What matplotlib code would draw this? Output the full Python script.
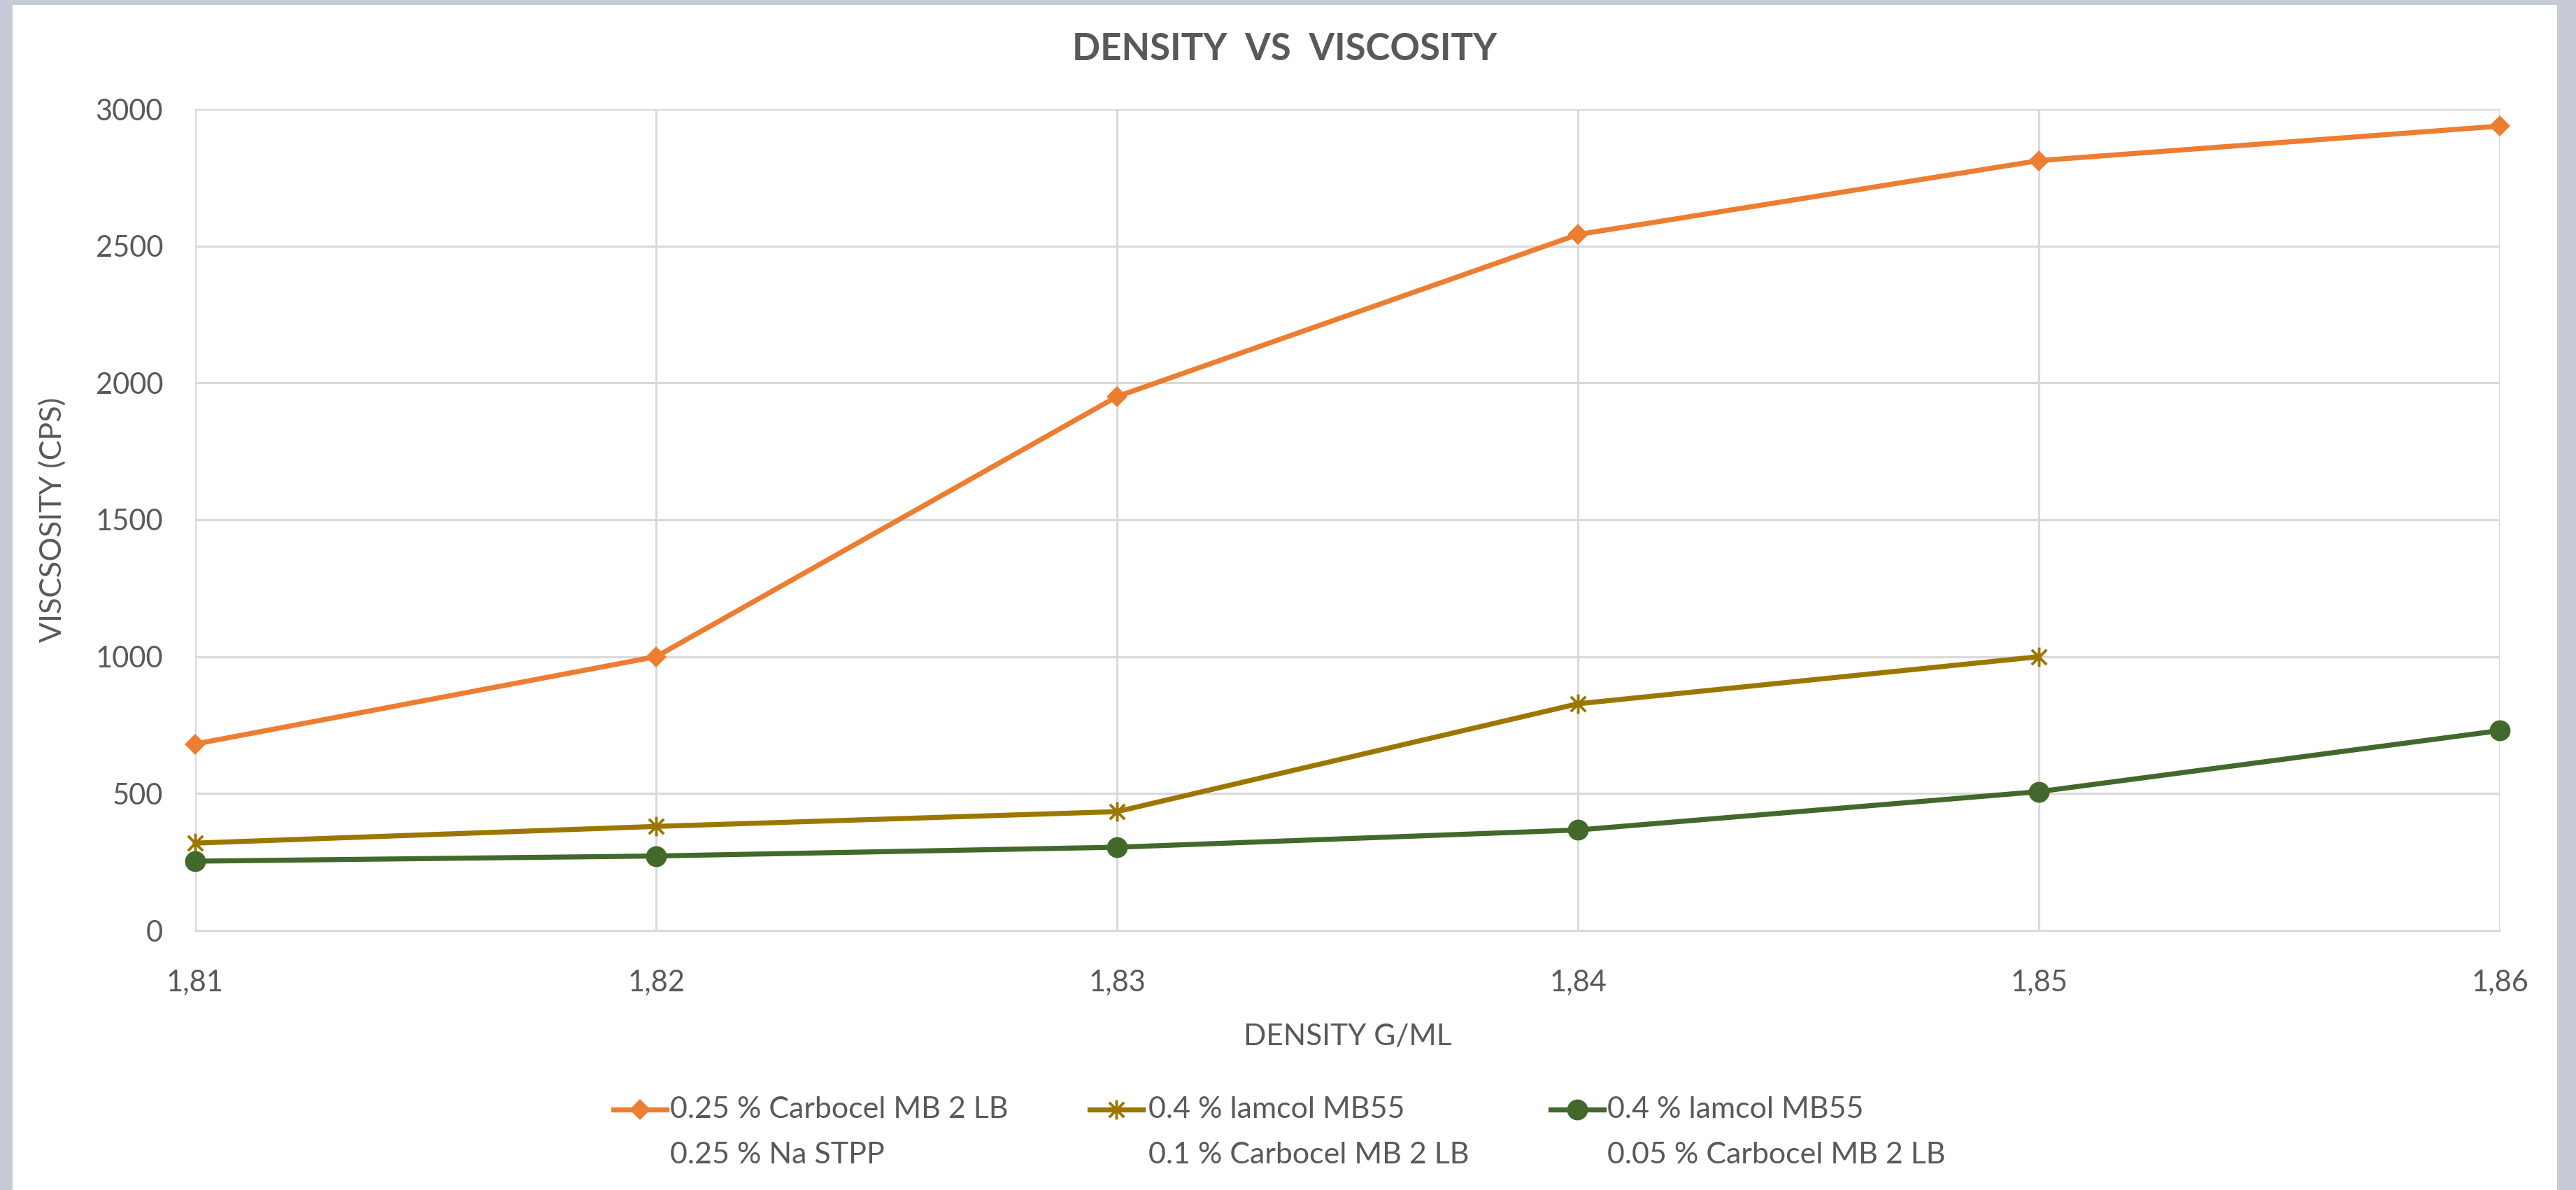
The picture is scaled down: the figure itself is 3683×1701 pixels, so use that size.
import matplotlib
matplotlib.use("Agg")
import matplotlib.pyplot as plt
from matplotlib.lines import Line2D
from matplotlib.patches import Rectangle
from matplotlib.path import Path

# data
density = [1.81, 1.82, 1.83, 1.84, 1.85, 1.86]
density_labels = ["1,81", "1,82", "1,83", "1,84", "1,85", "1,86"]
visc_ticks = [0, 500, 1000, 1500, 2000, 2500, 3000]

carbocel_stpp = [681, 1000, 1950, 2542, 2812, 2938]
lamcol_01 = [319, 380, 434, 828, 1000]
lamcol_005 = [253, 272, 304, 367, 507, 730]

labels_1 = ["0.25 % Carbocel MB 2 LB", "0.4 % lamcol MB55", "0.4 % lamcol MB55"]
labels_2 = ["0.25 % Na STPP", "0.1 % Carbocel MB 2 LB", "0.05 % Carbocel MB 2 LB"]

W, H = 3683, 1701
TXT = "#595959"
GRID = "#d9d9d9"
FONT = ["Lato", "DejaVu Sans"]

plt.rcParams["font.family"] = FONT

# excel style star: X with a vertical bar
star = Path([(-1, -1), (1, 1), (-1, 1), (1, -1), (0, -1.3), (0, 1.3)],
            [Path.MOVETO, Path.LINETO, Path.MOVETO, Path.LINETO, Path.MOVETO, Path.LINETO])

styles = [
    dict(color="#ED7D31", marker="D", ms=15.5, mew=0),
    dict(color="#9C7700", marker=star, ms=20, mew=2.8, mfc="none"),
    dict(color="#43682B", marker="o", ms=21.5, mew=0),
]
LW = 5.2


def fx(px):
    return px / W


def fy(py):
    return 1 - py / H


def main():
    fig = plt.figure(figsize=(W / 100, H / 100), dpi=100)
    fig.patch.set_facecolor("#c6cbd7")
    fig.add_artist(Rectangle((fx(18), 0), fx(3656) - fx(18), fy(7),
                             transform=fig.transFigure, facecolor="white",
                             edgecolor="none", zorder=-10))

    ax = fig.add_axes([fx(279), fy(1330), fx(3574) - fx(279), fy(156) - fy(1330)])
    ax.set_facecolor("none")

    series = [carbocel_stpp, lamcol_01, lamcol_005]
    for vals, st in zip(series, styles):
        ax.plot(density[:len(vals)], vals, lw=LW, clip_on=False, zorder=3, **st)

    ax.set_xlim(density[0], density[-1])
    ax.set_ylim(0, 3000)
    ax.set_xticks(density)
    ax.set_xticklabels(density_labels)
    ax.set_yticks(visc_ticks)
    ax.grid(True, color=GRID, lw=2.2)
    ax.set_axisbelow(True)
    for side in ["top", "right", "left"]:
        ax.spines[side].set_visible(False)
    ax.spines["bottom"].set_color(GRID)
    ax.spines["bottom"].set_linewidth(2.2)
    ax.tick_params(axis="both", length=0, labelsize=30, labelcolor=TXT)
    ax.tick_params(axis="x", pad=40)
    ax.tick_params(axis="y", pad=33)

    ax.set_xlabel("DENSITY G/ML", fontsize=30.5, color=TXT, labelpad=28)
    ax.set_ylabel("VISCSOSITY (CPS)", fontsize=31, color=TXT, labelpad=30)

    fig.text(fx(1837), fy(70), "DENSITY  VS  VISCOSITY", fontsize=38,
             fontweight="bold", color=TXT, ha="center", va="center")

    # legend, drawn by hand so the marker sits on the first text line
    handle_x = [877, 1558, 2217]
    text_x = [958, 1642, 2298]
    for i, st in enumerate(styles):
        x0, x1 = fx(handle_x[i]), fx(handle_x[i] + 76)
        ln = Line2D([x0, (x0 + x1) / 2, x1], [fy(1586)] * 3, lw=LW,
                    markevery=[1], transform=fig.transFigure, **st)
        fig.add_artist(ln)
        fig.text(fx(text_x[i]), fy(1586), labels_1[i], fontsize=31, color=TXT,
                 ha="left", va="center")
        fig.text(fx(text_x[i]), fy(1651), labels_2[i], fontsize=31, color=TXT,
                 ha="left", va="center")

    fig.savefig("out.png", dpi=100, facecolor=fig.get_facecolor())


if __name__ == "__main__":
    main()
